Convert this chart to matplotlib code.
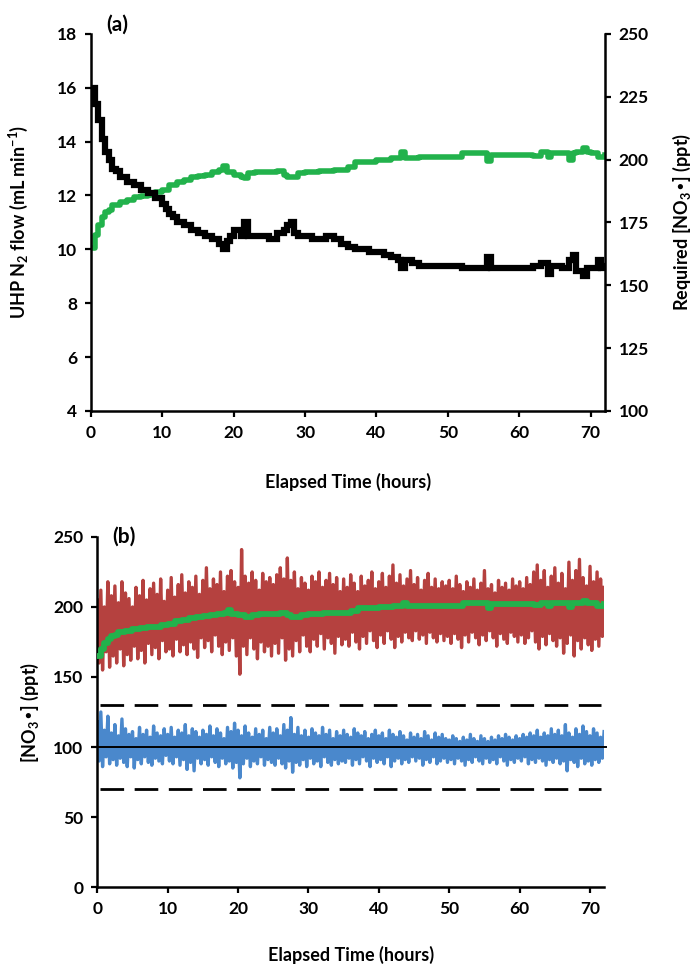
import numpy as np
import matplotlib
matplotlib.use("Agg")
import matplotlib.pyplot as plt

plt.rcParams['font.family'] = ['Lato', 'DejaVu Sans']
plt.rcParams['font.weight'] = 'bold'
plt.rcParams['font.size'] = 12.5
plt.rcParams['axes.labelweight'] = 'bold'
plt.rcParams['axes.labelsize'] = 13
plt.rcParams['mathtext.default'] = 'regular'

# ---- panel (a): UHP N2 flow and required [NO3*] ----
flow_t = [0, 0.5, 1, 1.5, 2, 2.5, 3, 3.5, 4, 5, 6, 7, 8, 9, 10, 10.5, 11, 11.5,
          12, 13, 14, 15, 16, 17, 18, 18.5, 19, 19.5, 20, 21, 21.5, 22, 23, 25,
          26, 27, 27.5, 28, 28.5, 29, 30, 31, 33, 34, 35, 36, 37, 39, 40, 41,
          42, 43, 43.5, 44, 45, 46, 48, 50, 52, 54, 55, 55.5, 56, 58, 60, 62,
          63, 64, 64.5, 65, 66, 67, 67.5, 68, 69, 69.5, 70, 71, 71.5, 72]
flow = [16.0, 15.4, 14.8, 14.1, 13.6, 13.3, 13.0, 12.9, 12.7, 12.5, 12.4, 12.2,
        12.1, 11.9, 11.7, 11.5, 11.3, 11.2, 11.0, 10.9, 10.7, 10.6, 10.5, 10.4,
        10.2, 10.0, 10.3, 10.5, 10.7, 10.5, 11.0, 10.5, 10.5, 10.4, 10.6, 10.7,
        10.9, 11.0, 10.6, 10.5, 10.5, 10.4, 10.5, 10.4, 10.2, 10.1, 10.0, 9.9,
        9.9, 9.8, 9.7, 9.6, 9.3, 9.6, 9.5, 9.4, 9.4, 9.4, 9.3, 9.3, 9.3, 9.7,
        9.3, 9.3, 9.3, 9.4, 9.5, 9.1, 9.4, 9.4, 9.3, 9.6, 9.8, 9.2, 9.0, 9.3,
        9.3, 9.6, 9.3, 9.4]

req_t = [0, 0.5, 1, 1.5, 2, 2.5, 3, 4, 5, 6, 7, 8, 9, 10, 11, 12, 13, 14, 15,
         16, 17, 18, 18.5, 19, 20, 21, 21.5, 22, 23, 25, 26, 27, 27.5, 28, 29,
         30, 32, 34, 36, 37, 38, 40, 42, 43.5, 44, 46, 48, 50, 52, 54, 55, 55.5,
         56, 58, 60, 62, 63, 64, 64.5, 66, 67, 67.5, 68, 69, 69.5, 70, 71, 72]
req_no3 = [165, 170, 174, 177, 179, 180, 182, 183, 184, 185, 185.5, 186, 187,
           188, 190, 191, 192, 193, 193.5, 194, 195, 196, 197.5, 195, 194, 193,
           192.5, 194.5, 195, 195, 195.5, 194, 193, 193, 194.5, 195, 195.5, 196,
           197, 199, 199, 200, 200.5, 203, 200.5, 201, 201, 201, 202.5, 202.5,
           202.5, 199.5, 202, 202, 202, 201.5, 203, 201, 202.5, 202.5, 200,
           202.5, 203, 204.5, 203, 202.5, 201, 202]

# ---- panel (b): measured [NO3*], uncontrolled (red) and controlled (blue) ----
# half-hourly upper and lower swings, t = 0, 0.5, ..., 72
noise_t = np.arange(0, 72.01, 0.5)
red_hi = [205, 212, 200, 218, 208, 215, 203, 218, 210, 206,
          200, 214, 208, 219, 205, 213, 217, 209, 220, 204,
          212, 221, 207, 216, 223, 210, 218, 214, 222, 209,
          219, 228, 213, 220, 216, 225, 211, 222, 226, 218,
          214, 241, 222, 217, 225, 219, 212, 224, 218, 221,
          216, 223, 228, 220, 235, 219, 225, 213, 221, 217,
          212, 222, 218, 225, 214, 219, 224, 216, 221, 211,
          220, 214, 223, 217, 211, 222, 215, 219, 225, 213,
          218, 224, 214, 222, 230, 217, 223, 215, 220, 226,
          216, 221, 212, 219, 224, 214, 220, 213, 218, 215,
          219, 213, 222, 216, 211, 218, 214, 220, 212, 217,
          226, 213, 216, 210, 219, 214, 217, 212, 220, 215,
          218, 213, 221, 216, 225, 230, 219, 226, 214, 222,
          228, 217, 224, 213, 232, 219, 226, 234, 221, 215,
          229, 218, 225, 220, 214]
red_lo = [160, 155, 168, 157, 165, 160, 170, 158, 166, 162,
          172, 163, 169, 160, 174, 166, 171, 163, 176, 168,
          170, 165, 177, 168, 173, 166, 175, 170, 164, 178,
          171, 176, 168, 180, 172, 166, 175, 169, 178, 165,
          152, 172, 166, 178, 170, 163, 175, 168, 172, 165,
          174, 167, 178, 162, 170, 165, 176, 168, 180, 172,
          168, 177, 172, 181, 170, 178, 174, 167, 179, 173,
          177, 172, 182, 175, 170, 179, 174, 183, 176, 171,
          180, 174, 183, 177, 171, 179, 175, 182, 178, 176,
          183, 177, 180, 174, 182, 178, 175, 181, 176, 179,
          174, 181, 177, 171, 180, 175, 182, 178, 173, 180,
          176, 183, 178, 172, 181, 177, 174, 182, 179, 175,
          180, 174, 178, 183, 175, 170, 179, 173, 181, 176,
          172, 178, 167, 174, 180, 165, 176, 170, 178, 173,
          169, 177, 172, 179, 175]
blue_hi = [118, 125, 112, 122, 110, 116, 108, 120, 113, 109,
           111, 106, 114, 109, 112, 107, 115, 110, 108, 113,
           109, 114, 107, 112, 110, 116, 108, 113, 111, 107,
           112, 109, 115, 108, 113, 110, 106, 114, 111, 117,
           112, 108, 115, 110, 107, 113, 109, 112, 106, 114,
           110, 113, 108, 116, 112, 121, 109, 114, 108, 112,
           107, 113, 110, 108, 114, 109, 112, 106, 111, 108,
           112, 109, 107, 113, 110, 108, 111, 106, 109, 112,
           108, 110, 106, 112, 109, 107, 111, 108, 105, 110,
           107, 109, 106, 111, 108, 105, 110, 107, 109, 106,
           105, 108, 106, 104, 107, 105, 109, 106, 104, 108,
           106, 104, 107, 105, 108, 106, 109, 107, 105, 108,
           106, 109, 107, 110, 108, 112, 107, 110, 108, 113,
           109, 112, 108, 116, 110, 107, 113, 109, 115, 111,
           108, 113, 110, 107, 111]
blue_lo = [90, 86, 93, 88, 91, 87, 92, 89, 86, 93,
           85, 91, 88, 93, 89, 87, 92, 90, 88, 94,
           90, 88, 93, 87, 91, 84, 89, 83, 92, 88,
           91, 87, 93, 89, 86, 92, 88, 90, 85, 89,
           78, 88, 92, 86, 90, 88, 93, 87, 91, 89,
           87, 92, 88, 85, 90, 82, 89, 87, 91, 86,
           92, 88, 90, 86, 93, 89, 87, 91, 88, 90,
           89, 92, 87, 91, 88, 93, 90, 86, 92, 89,
           91, 88, 93, 86, 90, 92, 88, 91, 89, 93,
           90, 92, 87, 91, 89, 93, 88, 90, 92, 89,
           91, 88, 92, 90, 87, 91, 89, 93, 90, 88,
           92, 89, 91, 88, 93, 90, 87, 91, 89, 92,
           90, 93, 88, 91, 89, 92, 90, 87, 91, 89,
           92, 88, 90, 83, 91, 89, 86, 92, 88, 90,
           87, 91, 89, 92, 90]
target = 100
limits = [70, 130]

RED = '#b5413f'
BLUE = '#4a88cc'
GREEN = '#22b24c'


def zigzag(t, hi, lo):
    # each half hour: swing up, then down a quarter hour later
    xs, ys = [], []
    for ti, h, l in zip(t, hi, lo):
        xs += [ti, ti + 0.25]
        ys += [h, l]
    return xs[:-1], ys[:-1]


def style_axis(ax):
    for side in ['top', 'right']:
        ax.spines[side].set_visible(False)
    for side in ['left', 'bottom']:
        ax.spines[side].set_linewidth(1.8)
    ax.tick_params(direction='out', length=4, width=1.6, pad=6)


fig = plt.figure(figsize=(7, 9.67), dpi=100)

# panel (a)
ax1 = fig.add_axes([0.130, 0.575, 0.734, 0.390])
ax1.plot(flow_t, flow, color='black', lw=4.5, drawstyle='steps-post',
         solid_joinstyle='miter', zorder=3)
ax1.set_xlim(0, 72)
ax1.set_ylim(4, 18)
ax1.set_yticks(range(4, 19, 2))
ax1.set_xticks(range(0, 71, 10))
style_axis(ax1)
ax1.set_xlabel('Elapsed Time (hours)')
ax1.xaxis.set_label_coords(0.5, -0.165)
ax1.set_ylabel('UHP N$_2$ flow (mL min$^{-1}$)')
ax1.yaxis.set_label_coords(-0.119, 0.5)
ax1.text(0.029, 1.024, '(a)', transform=ax1.transAxes, fontsize=15,
         fontweight='bold', va='center', ha='left')

ax2 = ax1.twinx()
ax2.plot(req_t, req_no3, color=GREEN, lw=4.0, drawstyle='steps-post', zorder=2)
ax2.set_ylim(100, 250)
ax2.set_yticks(range(100, 251, 25))
ax2.spines['top'].set_visible(False)
ax2.spines['left'].set_visible(False)
ax2.spines['bottom'].set_visible(False)
ax2.spines['right'].set_linewidth(1.8)
ax2.tick_params(direction='out', length=4, width=1.6, pad=6)
ax2.set_ylabel('Required [NO$_3$•] (ppt)')
ax2.yaxis.set_label_coords(1.128, 0.5)
ax1.set_zorder(ax2.get_zorder() + 1)
ax1.patch.set_visible(False)

# panel (b)
ax3 = fig.add_axes([0.139, 0.0827, 0.724, 0.362])
rx, ry = zigzag(noise_t, red_hi, red_lo)
bx, by = zigzag(noise_t, blue_hi, blue_lo)
ax3.plot(rx, ry, color=RED, lw=2.4, zorder=2)
ax3.plot(bx, by, color=BLUE, lw=2.4, zorder=2)
ax3.plot(req_t, req_no3, color=GREEN, lw=4.2, drawstyle='steps-post', zorder=3)
ax3.plot([0, 72.3], [target, target], color='black', lw=1.4, zorder=4,
         clip_on=False)
for lim in limits:
    ax3.plot([0.4, 71.5], [lim, lim], color='black', lw=2.0,
             dashes=(8.5, 3.8), zorder=4)
ax3.set_xlim(0, 72)
ax3.set_ylim(0, 250)
ax3.set_yticks(range(0, 251, 50))
ax3.set_xticks(range(0, 71, 10))
style_axis(ax3)
ax3.set_xlabel('Elapsed Time (hours)')
ax3.xaxis.set_label_coords(0.5, -0.167)
ax3.set_ylabel('[NO$_3$•] (ppt)')
ax3.yaxis.set_label_coords(-0.112, 0.5)
ax3.text(0.03, 1.0, '(b)', transform=ax3.transAxes, fontsize=15,
         fontweight='bold', va='center', ha='left')

fig.savefig('out.png', dpi=100, facecolor='white')
